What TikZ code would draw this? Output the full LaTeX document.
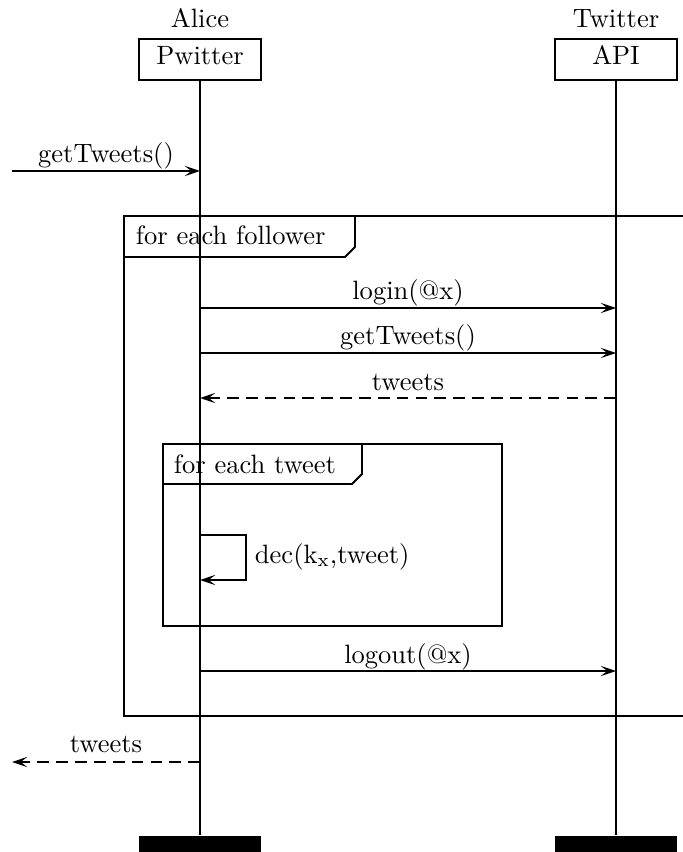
\documentclass[tikz,border=0pt]{standalone}
\usetikzlibrary{arrows.meta}
\begin{document}
\begin{tikzpicture}[x=0.3922pt,y=-0.3922pt,line width=0.75pt,
  every node/.style={font=\fontsize{10.4}{12.5}\selectfont},
  objbox/.style={draw,rectangle,minimum width=47.85pt,minimum height=16.1pt,inner sep=0pt},
  objlabel/.style={anchor=base,inner sep=0pt},
  endbar/.style={fill=black,rectangle,minimum width=47.85pt,minimum height=7.8pt,inner sep=0pt},
  msg/.style={-{Stealth[length=6pt,width=4pt,inset=2.6pt]}},
  rmsg/.style={msg,dash pattern=on 4.6pt off 2.8pt},
  mlabel/.style={anchor=base,inner sep=0pt},
  tlabel/.style={anchor=base west,inner sep=0pt}]
\useasboundingbox (0,0) rectangle (682,852);
% objects
\node[objlabel] (alice) at (200,28) {Alice};
\node[objlabel] (twitter) at (616,28) {Twitter};
\node[objbox] (pw) at (200,59.5) {};
\node[objlabel] (pwt) at (200,65) {Pwitter};
\node[objbox] (api) at (616,59.5) {};
\node[objlabel] (apit) at (616,65) {API};
\node[endbar] (bar1) at (200,846) {};
\node[endbar] (bar2) at (616,846) {};
\draw (pw.south) -- (bar1.north);
\draw (api.south) -- (bar2.north);
% outer frame
\draw (692,216) -- (124,216) -- (124,716) -- (692,716);
\draw (124,257) -- (345,257) -- (355,247) -- (355,216);
\node[tlabel] (f1) at (135,245) {for each follower};
% inner frame
\draw (163,444) rectangle (502,626);
\draw (163,484) -- (352,484) -- (362,474) -- (362,444);
\node[tlabel] (f2) at (173,473) {for each tweet};
% messages
\coordinate (in1) at (12,171);
\coordinate (a1) at (200,171);
\draw[msg] (in1) -- (a1);
\node[mlabel] (m1) at (106,163) {getTweets()};
\coordinate (a2) at (200,308);
\coordinate (b2) at (616,308);
\draw[msg] (a2) -- (b2);
\node[mlabel] (m2) at (408,300) {login(@x)};
\coordinate (a3) at (200,353);
\coordinate (b3) at (616,353);
\draw[msg] (a3) -- (b3);
\node[mlabel] (m3) at (408,345) {getTweets()};
\coordinate (a4) at (200,398);
\coordinate (b4) at (616,398);
\draw[rmsg] (b4) -- (a4);
\node[mlabel] (m4) at (408,390) {tweets};
% self call
\coordinate (s1) at (200,535);
\coordinate (s2) at (200,580);
\draw[msg] (s1) -- (246,535) -- (246,580) -- (s2);
\node[tlabel] (m5) at (254,563) {dec(k\textsubscript{x},tweet)};
\coordinate (a6) at (200,671);
\coordinate (b6) at (616,671);
\draw[msg] (a6) -- (b6);
\node[mlabel] (m6) at (408,663) {logout(@x)};
\coordinate (a7) at (200,762);
\coordinate (out7) at (12,762);
\draw[rmsg] (a7) -- (out7);
\node[mlabel] (m7) at (106,752) {tweets};
\end{tikzpicture}
\end{document}
